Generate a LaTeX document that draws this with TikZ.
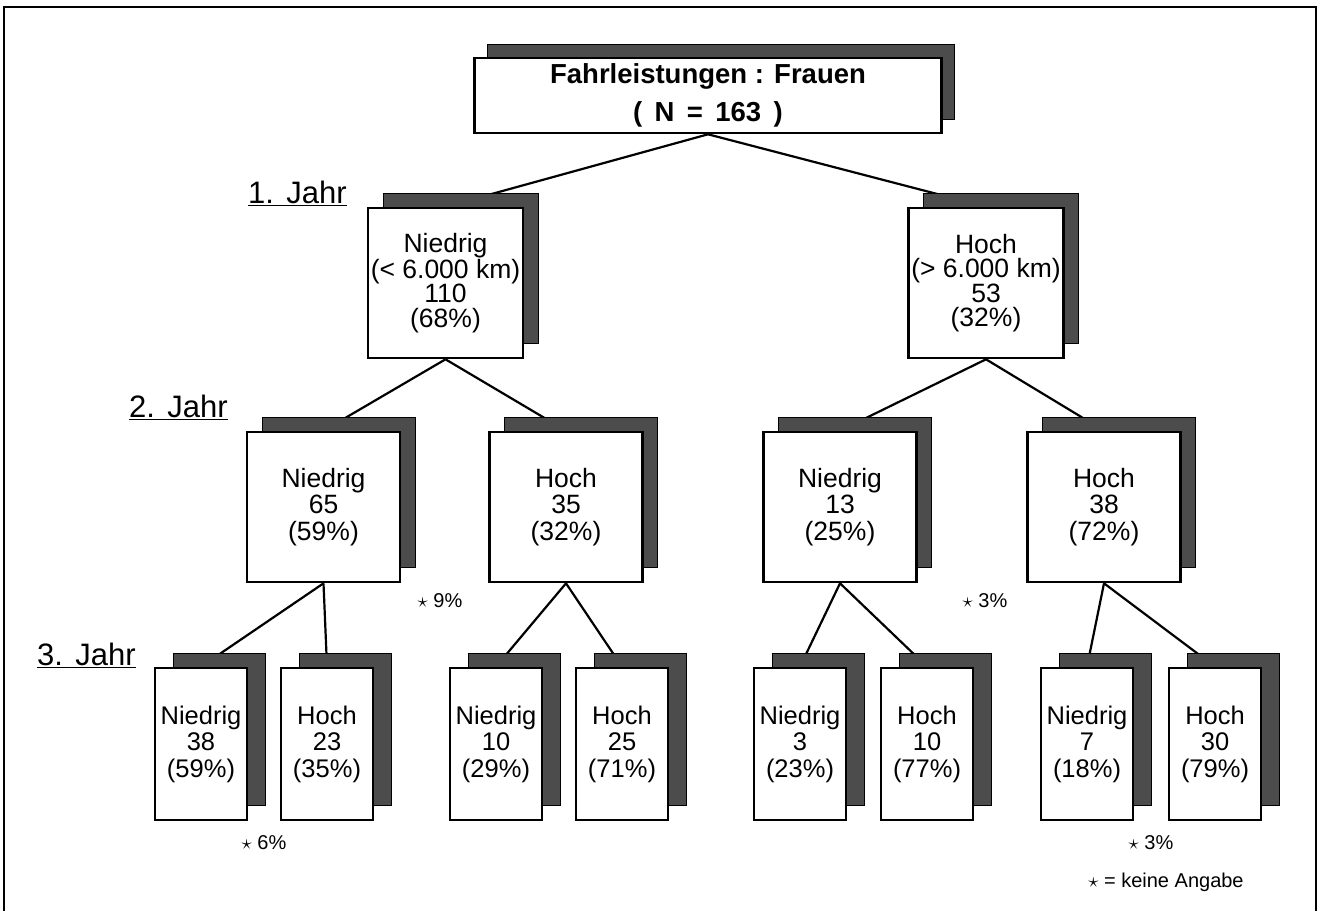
\documentclass[tikz,border=0pt]{standalone}
\usepackage{fontspec}
\setmainfont{Liberation Sans}
\usetikzlibrary{shadows,backgrounds}
\begin{document}
\begin{tikzpicture}[x=1pt,y=-1pt,
  box/.style={draw=black, line width=2.6pt, fill=white, align=center, inner sep=0pt},
  shad/.style={general shadow={shadow xshift=#1pt, shadow yshift=15pt, fill=black!70, draw=black, line width=1pt}},
  lvA/.style={box, shad=15, minimum width=155pt, minimum height=150pt, font=\fontsize{26.5}{24.5}\selectfont},
  lvB/.style={box, shad=15, minimum width=153pt, minimum height=150pt, font=\fontsize{26.5}{26.5}\selectfont},
  lvC/.style={box, shad=18, minimum width=92pt, minimum height=152pt, font=\fontsize{25.5}{26.5}\selectfont},
  conn/.style={line width=2.2pt},
  jahr/.style={font=\fontsize{31}{33}\selectfont, anchor=base west, inner sep=0pt},
  note/.style={font=\fontsize{20}{22}\selectfont, inner sep=0pt}]
\useasboundingbox (0,0) rectangle (1319,911);
\draw[line width=2pt] (4,911) -- (4,7) -- (1316,7) -- (1316,911);

\node[box, general shadow={shadow xshift=13pt, shadow yshift=14pt, fill=black!70, draw=black, line width=1pt},
  minimum width=467pt, minimum height=75pt, font=\fontsize{27.5}{38}\selectfont\bfseries] (top) at (708,95.5)
  {\raisebox{3pt}{Fahrleistungen : Frauen}\\\raisebox{3pt}{(\hspace{0.45em}N\hspace{0.45em}=\hspace{0.45em}163\hspace{0.45em})}};

\node[lvA] (a1) at (445.5,283) {Niedrig\\(< 6.000 km)\\110\\(68\%)};
\node[lvA] (a2) at (986,283) {Hoch\\(> 6.000 km)\\53\\(32\%)};

\node[lvB] (b1) at (323.5,507) {Niedrig\\65\\(59\%)};
\node[lvB] (b2) at (566,507) {Hoch\\35\\(32\%)};
\node[lvB] (b3) at (840,507) {Niedrig\\13\\(25\%)};
\node[lvB] (b4) at (1104,507) {Hoch\\38\\(72\%)};

\node[lvC] (c1) at (201,744) {Niedrig\\38\\(59\%)};
\node[lvC] (c2) at (327,744) {Hoch\\23\\(35\%)};
\node[lvC] (c3) at (496,744) {Niedrig\\10\\(29\%)};
\node[lvC] (c4) at (622,744) {Hoch\\25\\(71\%)};
\node[lvC] (c5) at (800,744) {Niedrig\\3\\(23\%)};
\node[lvC] (c6) at (927,744) {Hoch\\10\\(77\%)};
\node[lvC] (c7) at (1087,744) {Niedrig\\7\\(18\%)};
\node[lvC] (c8) at (1215,744) {Hoch\\30\\(79\%)};

\begin{pgfonlayer}{background}
\draw[conn] (top.south) -- (a1.north);
\draw[conn] (top.south) -- (a2.north);
\draw[conn] (a1.south) -- (b1.north);
\draw[conn] (a1.south) -- (b2.north);
\draw[conn] (a2.south) -- (b3.north);
\draw[conn] (a2.south) -- (b4.north);
\draw[conn] (b1.south) -- (c1.north);
\draw[conn] (b1.south) -- (c2.north);
\draw[conn] (b2.south) -- (c3.north);
\draw[conn] (b2.south) -- (c4.north);
\draw[conn] (b3.south) -- (c5.north);
\draw[conn] (b3.south) -- (c6.north);
\draw[conn] (b4.south) -- (c7.north);
\draw[conn] (b4.south) -- (c8.north);
\end{pgfonlayer}

\node[jahr] (j1) at (248,203) {\underline{1.\hspace{0.4em}Jahr}};
\node[jahr] (j2) at (129,417) {\underline{2.\hspace{0.4em}Jahr}};
\node[jahr] (j3) at (37,665) {\underline{3.\hspace{0.4em}Jahr}};

\node[note] (n1) at (440,601) {$\star$ 9\%};
\node[note] (n2) at (985,601) {$\star$ 3\%};
\node[note] (n3) at (264,843) {$\star$ 6\%};
\node[note] (n4) at (1151,843) {$\star$ 3\%};
\node[note] (n5) at (1166,882) {$\star$ = keine Angabe};
\end{tikzpicture}
\end{document}
